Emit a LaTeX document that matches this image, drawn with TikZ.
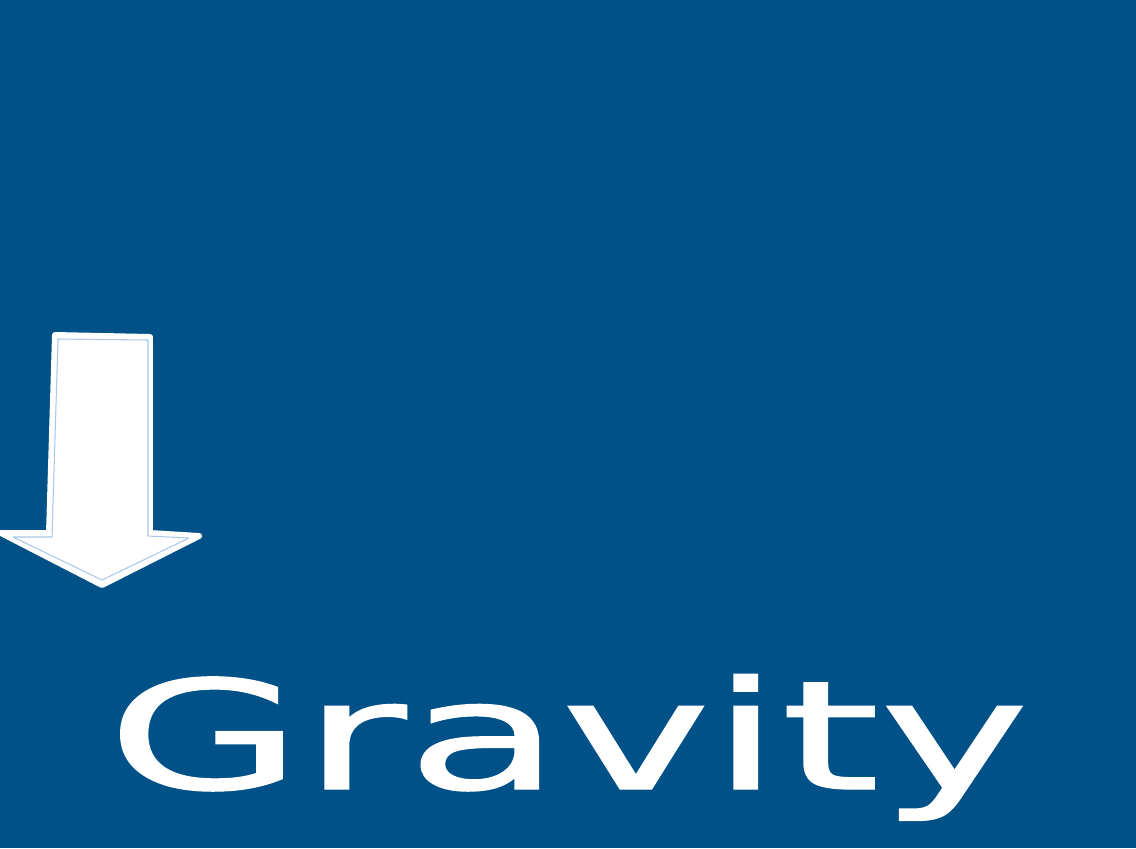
\documentclass[tikz,border=0pt]{standalone}
\usepackage{fontspec}
\setmainfont{DejaVu Sans}
\newfontfamily\wordfont[FakeBold=0.8]{DejaVu Sans}
\definecolor{gravblue}{RGB}{0,81,136}
\definecolor{rimblue}{RGB}{170,200,232}
\tikzset{
  arrowbody/.style={fill=white, draw=white, line width=1.7pt, line join=round},
  arrowrim/.style={draw=rimblue, line width=0.3pt, line join=round},
  bigword/.style={text=white, inner sep=0, anchor=base}
}
\begin{document}
\begin{tikzpicture}[x=0.01cm, y=-0.01cm]
\fill[gravblue] (0,0) rectangle (1136,848);
\useasboundingbox (0,0) rectangle (1136,848);
% the arrow
\draw[arrowbody] (55,335) -- (150,337) -- (150,533) -- (199,536) -- (102,585)
  -- (1,533) -- (49,533) -- cycle;
\draw[arrowrim] (58,339) -- (148,340) -- (148,536) -- (189,538) -- (102,580)
  -- (13,537) -- (52,537) -- cycle;
\node[bigword] (word) at (568,789)
  {\scalebox{1.67}[1]{\fontsize{43pt}{50pt}\wordfont Gravity}};
\end{tikzpicture}
\end{document}
